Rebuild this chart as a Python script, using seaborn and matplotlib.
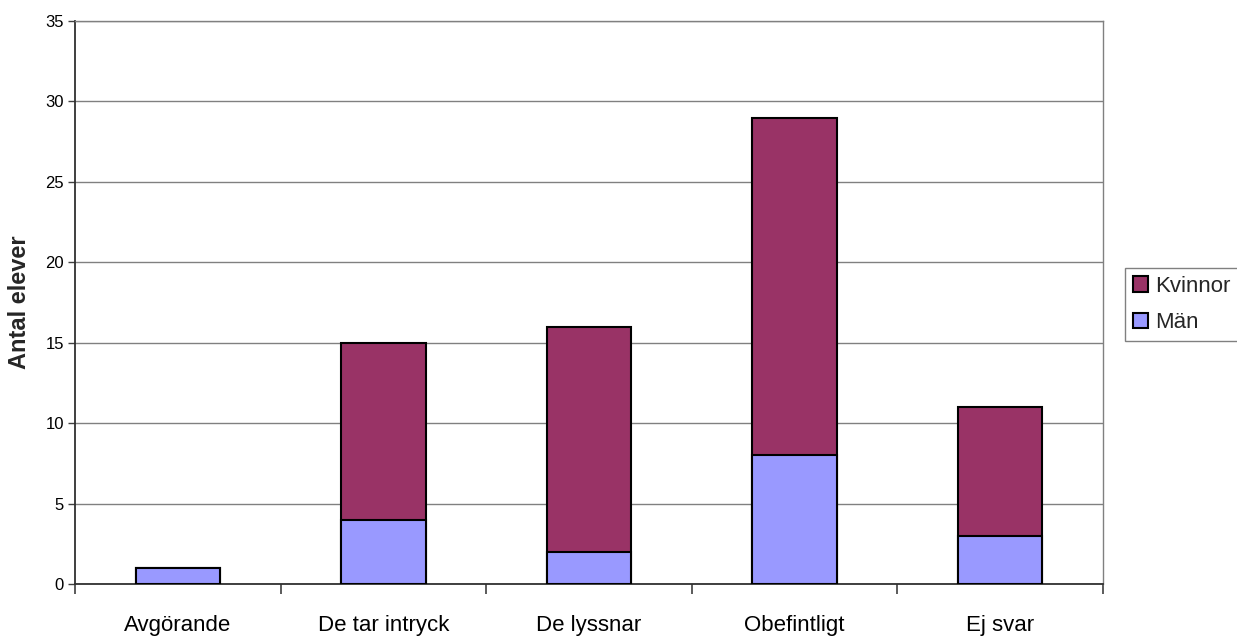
import matplotlib
matplotlib.use('Agg')
import matplotlib.pyplot as plt
import matplotlib.patches as mpatches
import seaborn as sns
import pandas as pd
import numpy as np

categories = ['Avgörande', 'De tar intryck', 'De lyssnar', 'Obefintligt', 'Ej svar']
man = [1, 4, 2, 8, 3]
kvinnor = [0, 11, 14, 21, 8]
yticks = [0, 5, 10, 15, 20, 25, 30, 35]

col_k = '#993366'
col_m = '#9999FF'

sns.set_style('white')
plt.rcParams['font.family'] = ['Liberation Sans', 'DejaVu Sans']

df = pd.DataFrame({'kategori': categories, 'Män': man, 'Kvinnor': kvinnor})
df['total'] = df['Män'] + df['Kvinnor']

fig = plt.figure(figsize=(12.37, 6.36), dpi=100)
ax = fig.add_axes([0.0606, 0.0818, 0.8311, 0.8852])

# totals first (Kvinnor colour), then Män drawn over the bottom part
sns.barplot(data=df, x='kategori', y='total', color=col_k, width=0.41,
            edgecolor='black', linewidth=1.5, saturation=1, ax=ax, zorder=3)
sns.barplot(data=df, x='kategori', y='Män', color=col_m, width=0.41,
            edgecolor='black', linewidth=1.5, saturation=1, ax=ax, zorder=4)

ax.set_xlim(-0.5, len(categories) - 0.5)
ax.set_ylim(0, 35)
ax.set_yticks(yticks)
ax.yaxis.grid(True, color='#808080', linewidth=1, zorder=0)
ax.set_axisbelow(True)

ax.set_xticks(np.arange(len(categories)))
ax.set_xticklabels(categories, fontsize=16)
ax.set_xticks(np.arange(-0.5, len(categories)), minor=True)
ax.tick_params(axis='x', which='major', bottom=False, length=0, pad=22, labelcolor='black')
ax.tick_params(axis='x', which='minor', bottom=True, length=7, width=1.2,
               color='#404040', direction='out')
ax.tick_params(axis='y', left=True, labelsize=12, length=5, width=1, color='#404040',
               direction='out', pad=3, labelcolor='black')

ax.set_xlabel('')
ax.set_ylabel('Antal elever', fontsize=17, fontweight='bold')
ax.yaxis.set_label_coords(-0.043, 0.5)

for s in ['left', 'bottom']:
    ax.spines[s].set_color('#303030')
    ax.spines[s].set_linewidth(1.3)
ax.spines['right'].set_color('#808080')
ax.spines['right'].set_linewidth(1)
ax.spines['top'].set_color('#808080')
ax.spines['top'].set_linewidth(1)

handles = [mpatches.Patch(facecolor=col_k, edgecolor='black', linewidth=1.5, label='Kvinnor'),
           mpatches.Patch(facecolor=col_m, edgecolor='black', linewidth=1.5, label='Män')]
leg = fig.legend(handles=handles, loc='upper left', bbox_to_anchor=(0.9095, 0.5786),
                 fontsize=16, frameon=True, fancybox=False, handlelength=0.7,
                 handleheight=0.7, handletextpad=0.3, labelspacing=0.7,
                 borderpad=0.35, borderaxespad=0)
leg.get_frame().set_edgecolor('#606060')
leg.get_frame().set_linewidth(1)

fig.savefig('out.png', dpi=100)
